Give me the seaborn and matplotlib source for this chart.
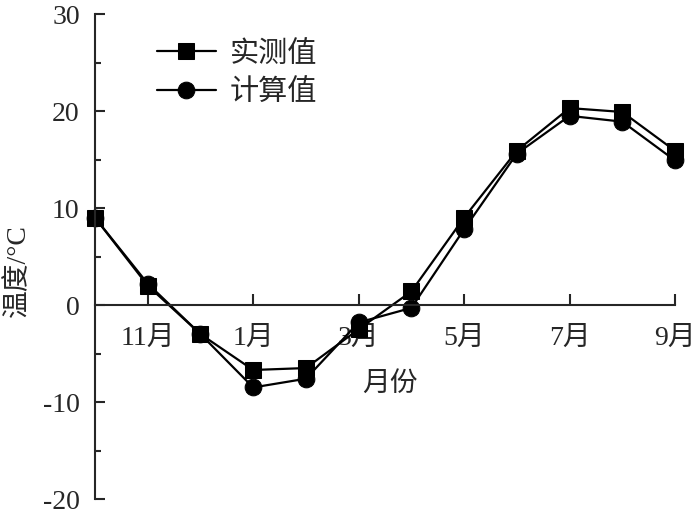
import matplotlib
matplotlib.use('Agg')
import matplotlib.pyplot as plt
from matplotlib.ticker import MultipleLocator
import seaborn as sns
import pandas as pd

# month index: 0 = Oct ... 11 = Sep
months = list(range(12))
measured = [9.0, 2.0, -3.0, -6.7, -6.5, -2.5, 1.4, 9.0, 15.9, 20.3, 19.9, 15.9]
calculated = [9.0, 2.2, -3.0, -8.5, -7.6, -1.8, -0.3, 7.8, 15.6, 19.5, 18.9, 14.9]
tick_pos = [1, 3, 5, 7, 9, 11]
tick_labels = ['11月', '1月', '3月', '5月', '7月', '9月']

sns.set_style('ticks')
plt.rcParams['font.family'] = ['Liberation Serif', 'Noto Sans CJK SC']
plt.rcParams['axes.unicode_minus'] = False

df = pd.DataFrame({
    'month': months * 2,
    'temp': measured + calculated,
    'series': ['实测值'] * 12 + ['计算值'] * 12,
})

fig = plt.figure(figsize=(6.92, 5.10), dpi=100)
ax = fig.add_axes([95 / 692, 10 / 510, 580 / 692, 485 / 510])

sns.lineplot(data=df, x='month', y='temp', hue='series', style='series',
             markers={'实测值': 's', '计算值': 'o'}, dashes=False,
             palette={'实测值': 'black', '计算值': 'black'},
             markersize=12, linewidth=1.6, markeredgecolor='black',
             ax=ax, clip_on=False)

ax.set_xlim(0, 11)
ax.set_ylim(-20, 30)
ax.spines['bottom'].set_position(('data', 0))
ax.spines['top'].set_visible(False)
ax.spines['right'].set_visible(False)
for s in ['left', 'bottom']:
    ax.spines[s].set_linewidth(1.5)

ax.set_xticks(tick_pos)
ax.set_xticklabels(tick_labels)
ax.yaxis.set_major_locator(MultipleLocator(10))
ax.yaxis.set_minor_locator(MultipleLocator(5))
ax.tick_params(axis='both', direction='in', labelsize=20, width=1.5)
ax.tick_params(axis='y', which='major', length=7, pad=11)
ax.tick_params(axis='y', which='minor', length=4, width=1.5, direction='in')
ax.tick_params(axis='x', length=8, pad=14)

ax.set_xlabel('月份', fontsize=20)
ax.xaxis.set_label_coords(0.509, 0.265)
ax.set_ylabel('温度/°C', fontsize=20)
ax.yaxis.set_label_coords(-0.11, 0.474)

leg = ax.legend(loc='upper left', bbox_to_anchor=(0.062, 1.0), frameon=False,
                fontsize=21, handlelength=2.0, handletextpad=0.5,
                labelspacing=0.4)

fig.savefig('out.png', dpi=100)
